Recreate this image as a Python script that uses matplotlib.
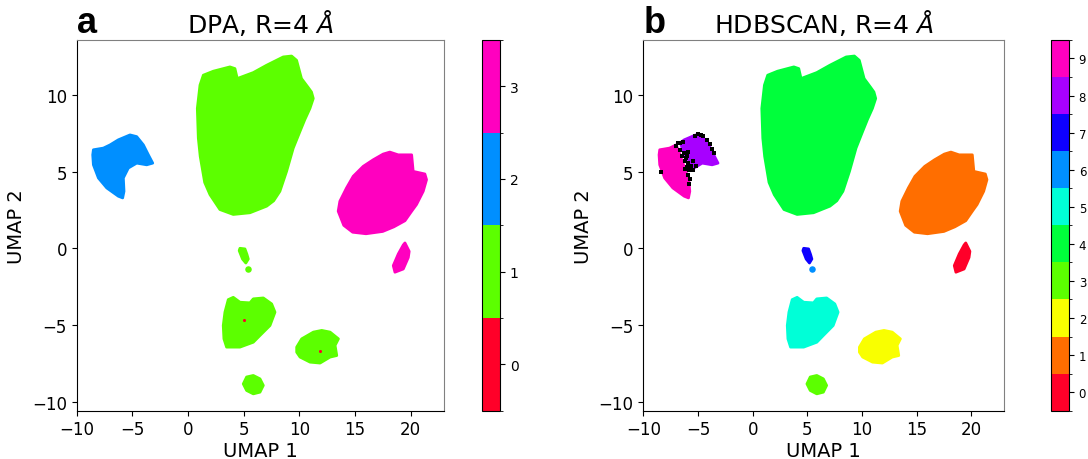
import numpy as np
import matplotlib.pyplot as plt
from matplotlib.colors import ListedColormap, BoundaryNorm
from matplotlib.cm import ScalarMappable

# cluster outlines in UMAP space
big_x = [1.38, 2.28, 3.77, 4.22, 4.43, 5.87, 7.07, 8.56, 9.31, 9.76, 10.2, 10.8, 11.1, 11.26, 10.96,
         10.5, 10.06, 9.46, 8.86, 8.26, 7.7, 7.07, 5.57, 4.07, 2.87, 1.98, 1.5, 1.1, 0.93, 0.84, 1.08]
big_y = [11.3, 11.56, 11.84, 11.73, 11.08, 11.47, 11.95, 12.49, 12.55, 12.27, 11.08, 10.5, 10.2, 9.78, 9.13,
         8.4, 7.62, 6.54, 5.02, 3.72, 3.1, 2.75, 2.32, 2.21, 2.53, 3.5, 4.3, 6.0, 7.19, 9.13, 10.65]

left_x = [-8.5, -7.6, -7.0, -6.26, -5.21, -4.61, -4.01, -3.56, -3.17, -3.71, -4.61, -5.36, -5.81,
          -5.75, -5.87, -6.26, -7.3, -8.05, -8.5, -8.56]
left_y = [6.43, 6.54, 6.75, 7.08, 7.40, 7.29, 6.75, 6.10, 5.56, 5.45, 5.56, 5.24, 4.59,
          3.72, 3.29, 3.40, 3.94, 4.59, 5.45, 6.10]

# left blob as split by HDBSCAN
leftA_x = [-8.5, -7.6, -7.0, -6.75, -6.45, -6.1, -5.85, -5.75, -5.87, -6.26, -7.3, -8.05, -8.5, -8.56]
leftA_y = [6.43, 6.54, 6.75, 6.3, 5.7, 5.0, 4.5, 3.72, 3.29, 3.40, 3.94, 4.59, 5.45, 6.10]
leftB_x = [-6.6, -6.26, -5.21, -4.61, -4.01, -3.56, -3.17, -3.71, -4.61, -5.36, -5.6, -6.0, -6.35]
leftB_y = [6.9, 7.08, 7.40, 7.29, 6.75, 6.10, 5.56, 5.45, 5.56, 5.24, 5.5, 5.9, 6.3]

right_x = [13.5, 13.65, 14.25, 14.85, 15.75, 16.65, 17.54, 18.14, 18.89, 20.1, 20.24, 21.29, 21.44,
           21.14, 20.54, 20.1, 19.5, 18.5, 17.5, 16.0, 14.8, 14.0]
right_y = [2.42, 3.07, 3.94, 4.70, 5.35, 5.78, 6.15, 6.28, 6.10, 6.10, 5.02, 4.85, 4.48,
           3.72, 2.86, 2.42, 1.8, 1.4, 1.1, 0.95, 1.05, 1.5]

small_x = [19.35, 19.5, 19.88, 19.8, 19.35, 18.6, 18.45, 18.9]
small_y = [0.22, 0.35, -0.2, -0.6, -1.35, -1.56, -1.13, -0.37]

stick_x = [4.67, 5.12, 5.3, 5.42, 5.2, 4.9, 4.6]
stick_y = [0.0, -0.04, -0.4, -0.70, -0.96, -0.70, -0.15]

midl_x = [3.62, 4.07, 4.67, 5.57, 5.87, 6.77, 7.52, 7.82, 7.37, 6.47, 5.87, 4.67, 3.47, 3.23, 3.17, 3.32]
midl_y = [-3.35, -3.2, -3.52, -3.56, -3.30, -3.24, -3.63, -4.17, -5.04, -5.69, -6.13, -6.45, -6.45,
          -5.91, -5.04, -4.17]

midr_x = [9.77, 10.22, 11.27, 12.02, 12.77, 13.52, 13.22, 13.37, 12.77, 11.87, 10.97, 10.07, 9.77]
midr_y = [-6.45, -5.91, -5.47, -5.36, -5.47, -5.91, -6.34, -7.0, -7.1, -7.49, -7.43, -7.1, -6.78]

bot_x = [5.27, 5.87, 6.47, 6.77, 6.47, 5.87, 5.27, 4.97]
bot_y = [-8.4, -8.3, -8.52, -8.95, -9.39, -9.5, -9.28, -8.85]

dot_x, dot_y = 5.42, -1.35

# DPA label 0 points and HDBSCAN noise points
red_x = [5.0, 11.9]
red_y = [-4.7, -6.7]
noise_x = [-7.0, -6.8, -6.6, -6.4, -6.6, -6.3, -6.1, -5.9, -6.2, -6.0, -5.8, -5.6, -5.9, -5.7, -5.5,
           -5.8, -6.0, -5.9, -5.3, -5.0, -4.7, -4.5, -4.2, -3.9, -3.7, -3.5, -8.4, -5.2, -5.5, -6.45, -6.2]
noise_y = [6.7, 6.85, 6.9, 6.95, 6.4, 6.2, 5.9, 5.6, 5.7, 5.3, 5.1, 5.4, 4.8, 4.5, 5.7,
           4.2, 6.0, 6.3, 7.35, 7.45, 7.4, 7.3, 7.1, 6.8, 6.5, 6.2, 4.95, 5.4, 5.1, 6.05, 5.2]

# shapes and labels per method
dpa_shapes = [(big_x, big_y), (left_x, left_y), (right_x, right_y), (small_x, small_y),
              (stick_x, stick_y), (midl_x, midl_y), (midr_x, midr_y), (bot_x, bot_y)]
dpa_labels = [1, 2, 3, 3, 1, 1, 1, 1]
dpa_dot = 1

hdb_shapes = [(big_x, big_y), (leftA_x, leftA_y), (leftB_x, leftB_y), (right_x, right_y),
              (small_x, small_y), (stick_x, stick_y), (midl_x, midl_y), (midr_x, midr_y), (bot_x, bot_y)]
hdb_labels = [4, 9, 8, 1, 0, 7, 5, 2, 3]
hdb_dot = 6


def make_cmap(n):
    base = plt.get_cmap('gist_rainbow')
    return ListedColormap(base(np.linspace(0, 1, n)))


def panel(ax, cax, shapes, labels, dot_label, n, title, letter, cbsize):
    cmap = make_cmap(n)
    norm = BoundaryNorm(np.arange(-0.5, n), n)
    for (xs, ys), lab in zip(shapes, labels):
        c = cmap(lab)
        ax.fill(xs, ys, color=c, ec=c, lw=2.0, joinstyle='round')
    ax.scatter([dot_x], [dot_y], s=22, color=cmap(dot_label), lw=0)
    ax.set_xlim(-10, 23)
    ax.set_ylim(-10.6, 13.6)
    ax.set_xticks([-10, -5, 0, 5, 10, 15, 20])
    ax.set_yticks([-10, -5, 0, 5, 10])
    ax.tick_params(labelsize=12)
    ax.set_xlabel('UMAP 1', fontsize=14, labelpad=2)
    ax.set_ylabel('UMAP 2', fontsize=14)
    ax.set_title(title, fontsize=18, pad=6)
    ax.text(0, 1.022, letter, transform=ax.transAxes, fontsize=26, fontweight='bold',
            family='Liberation Sans', ha='left', va='baseline')
    for s in ['top', 'right']:
        ax.spines[s].set_color('0.5')
    cb = plt.colorbar(ScalarMappable(norm=norm, cmap=cmap), cax=cax, ticks=range(n))
    cb.ax.tick_params(labelsize=cbsize)
    return cmap


fig = plt.figure(figsize=(10.88, 4.6), dpi=100)
ax1 = fig.add_axes([0.0705, 0.105, 0.3375, 0.806])
cax1 = fig.add_axes([0.443, 0.105, 0.0165, 0.806])
ax2 = fig.add_axes([0.5913, 0.105, 0.3315, 0.806])
cax2 = fig.add_axes([0.966, 0.105, 0.0165, 0.806])

cm1 = panel(ax1, cax1, dpa_shapes, dpa_labels, dpa_dot, 4, 'DPA, R=4 $\\mathit{Å}$', 'a', 10)
ax1.scatter(red_x, red_y, s=5, color=cm1(0), lw=0, zorder=3)

cm2 = panel(ax2, cax2, hdb_shapes, hdb_labels, hdb_dot, 10, 'HDBSCAN, R=4 $\\mathit{Å}$', 'b', 8.5)
ax2.scatter(noise_x, noise_y, s=9, color='black', marker='s', lw=0, zorder=3)

fig.savefig('out.png', dpi=100)
